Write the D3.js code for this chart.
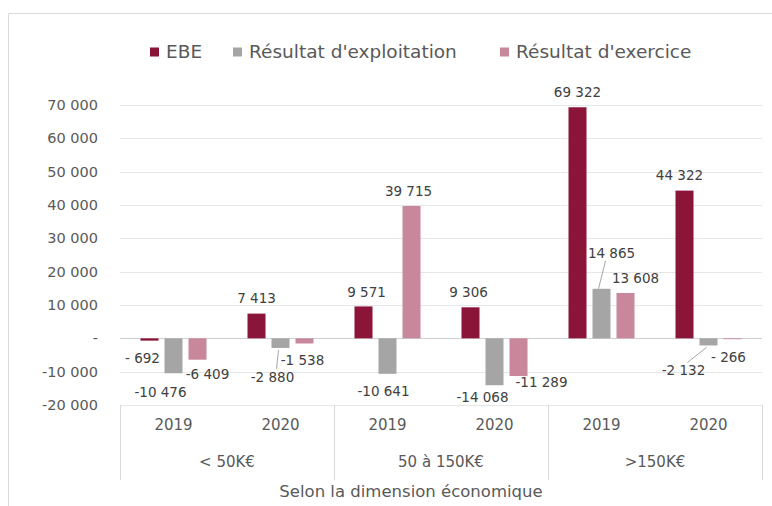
<!DOCTYPE html>
<html lang="fr">
<head>
<meta charset="UTF-8">
<title>Résultats selon la dimension économique</title>
<script src="https://cdn.jsdelivr.net/npm/d3@7/dist/d3.min.js"></script>
<style>
  body { margin: 0; background: #fff; }
  svg text { font-family: "DejaVu Sans", sans-serif; fill: #595959; }
  svg text.val { fill: #404040; }
</style>
</head>
<body>
<div id="chart"></div>
<script>
// data
const groups = ["< 50K€", "50 à 150K€", ">150K€"];
const years = ["2019", "2020"];
const series = ["EBE", "Résultat d'exploitation", "Résultat d'exercice"];
const ebe      = [-692, 7413, 9571, 9306, 69322, 44322];
const exploit  = [-10476, -2880, -10641, -14068, 14865, -2132];
const exercice = [-6409, -1538, 39715, -11289, 13608, -266];
const yTicks = [-20000, -10000, 0, 10000, 20000, 30000, 40000, 50000, 60000, 70000];
const xTitle = "Selon la dimension économique";

const colors = ["#8b1538", "#a5a5a5", "#c8879b"];

// hand placed label nudges (dx, dy) and leader lines, same order as the bars
const nudge = [
  [-7, 4], [-13, 5], [10, 1],
  [0, 0], [-8, 15, true], [-2, 3],
  [3, 1], [-4, 3], [-3, 0],
  [-2, 0], [-12, -2], [23, -8],
  [0, 0], [10, -21, true], [10, 0],
  [-5, 0], [-25, 11, true], [-4, 4]
];

const width = 772, height = 506;
const plotL = 120, plotR = 762, plotT = 105, plotB = 405;

const svg = d3.select("#chart").append("svg")
  .attr("width", width).attr("height", height);

// chart frame
svg.append("path")
  .attr("d", `M8.5,${height} V13.5 H${width}`)
  .attr("fill", "none").attr("stroke", "#d9d9d9");

const y = d3.scaleLinear().domain([-20000, 70000]).range([plotB, plotT]);

const xGroup = d3.scaleBand().domain(groups).range([plotL, plotR]);
const xYear = d3.scaleBand().domain(years).range([0, xGroup.bandwidth()]);
const xSeries = d3.scaleBand().domain(series).range([0, xYear.bandwidth()])
  .paddingInner(0.25).paddingOuter(0.854);

const fr = d3.formatLocale({ decimal: ",", thousands: " ", grouping: [3], currency: ["", " €"] });
const num = fr.format(",d");
const fmt = v => v < 0 ? (v > -1000 ? "- " : "-") + num(-v) : num(v);

// gridlines
svg.append("g").selectAll("line").data(yTicks).join("line")
  .attr("x1", plotL).attr("x2", plotR)
  .attr("y1", d => Math.round(y(d)) + 0.5).attr("y2", d => Math.round(y(d)) + 0.5)
  .attr("stroke", d => d === 0 ? "#d0d0d0" : "#e6e6e6");

// y axis labels
svg.append("g").selectAll("text").data(yTicks).join("text")
  .attr("x", 98).attr("y", d => y(d)).attr("dy", "0.35em")
  .attr("text-anchor", "end").style("font-size", "14.5px")
  .text(d => d === 0 ? "-" : fmt(d));

// flatten bars
const bars = [];
groups.forEach((g, gi) => years.forEach((yr, yi) => {
  const k = gi * years.length + yi;
  [ebe, exploit, exercice].forEach((arr, si) => {
    bars.push({ g, yr, s: series[si], si, v: arr[k] });
  });
}));
bars.forEach((b, i) => {
  b.x = xGroup(b.g) + xYear(b.yr) + xSeries(b.s);
  b.cx = b.x + xSeries.bandwidth() / 2;
  b.n = nudge[i];
});

svg.append("g").selectAll("rect").data(bars).join("rect")
  .attr("x", d => d.x)
  .attr("y", d => y(Math.max(0, d.v)))
  .attr("width", xSeries.bandwidth())
  .attr("height", d => Math.abs(y(d.v) - y(0)))
  .attr("fill", d => colors[d.si]);

// data labels
bars.forEach(b => {
  b.lx = b.cx + b.n[0];
  b.ly = (b.v >= 0 ? y(b.v) - 15 : y(b.v) + 14) + b.n[1];
});
svg.append("g").selectAll("line").data(bars.filter(b => b.n[2])).join("line")
  .attr("x1", d => d.cx - (d.v >= 0 ? 3 : 2))
  .attr("y1", d => d.v >= 0 ? y(d.v) : y(d.v) + 2)
  .attr("x2", d => d.lx + (d.v >= 0 ? -6 : 4))
  .attr("y2", d => d.v >= 0 ? d.ly + 8 : d.ly - 8)
  .attr("stroke", "#a5a5a5");
svg.append("g").selectAll("text").data(bars).join("text")
  .attr("class", "val")
  .attr("x", d => d.lx).attr("y", d => d.ly).attr("dy", "0.35em")
  .attr("text-anchor", "middle").style("font-size", "13.5px")
  .text(d => fmt(d.v));

// category axis
const axisG = svg.append("g");
const bounds = groups.map(g => xGroup(g)).concat([plotR]);
axisG.selectAll("line").data(bounds).join("line")
  .attr("x1", d => Math.round(d) + 0.5).attr("x2", d => Math.round(d) + 0.5)
  .attr("y1", plotB).attr("y2", 480)
  .attr("stroke", "#d9d9d9");
groups.forEach(g => {
  years.forEach(yr => {
    axisG.append("text")
      .attr("x", xGroup(g) + xYear(yr) + xYear.bandwidth() / 2)
      .attr("y", 425).attr("dy", "0.35em")
      .attr("text-anchor", "middle").style("font-size", "15px")
      .text(yr);
  });
  axisG.append("text")
    .attr("x", xGroup(g) + xGroup.bandwidth() / 2)
    .attr("y", 462).attr("dy", "0.35em")
    .attr("text-anchor", "middle").style("font-size", "15px")
    .text(g);
});
svg.append("text")
  .attr("x", (plotL + plotR) / 2 - 30).attr("y", 491).attr("dy", "0.35em")
  .attr("text-anchor", "middle").style("font-size", "16.5px")
  .text(xTitle);

// legend
const legendX = [150, 233, 500];
const legend = svg.append("g").selectAll("g").data(series).join("g")
  .attr("transform", (d, i) => `translate(${legendX[i]},52)`);
legend.append("rect").attr("x", 0).attr("y", -4.5).attr("width", 9).attr("height", 9)
  .attr("fill", (d, i) => colors[i]);
legend.append("text").attr("x", 16).attr("dy", "0.35em")
  .style("font-size", "18.5px")
  .text(d => d);
</script>
</body>
</html>
